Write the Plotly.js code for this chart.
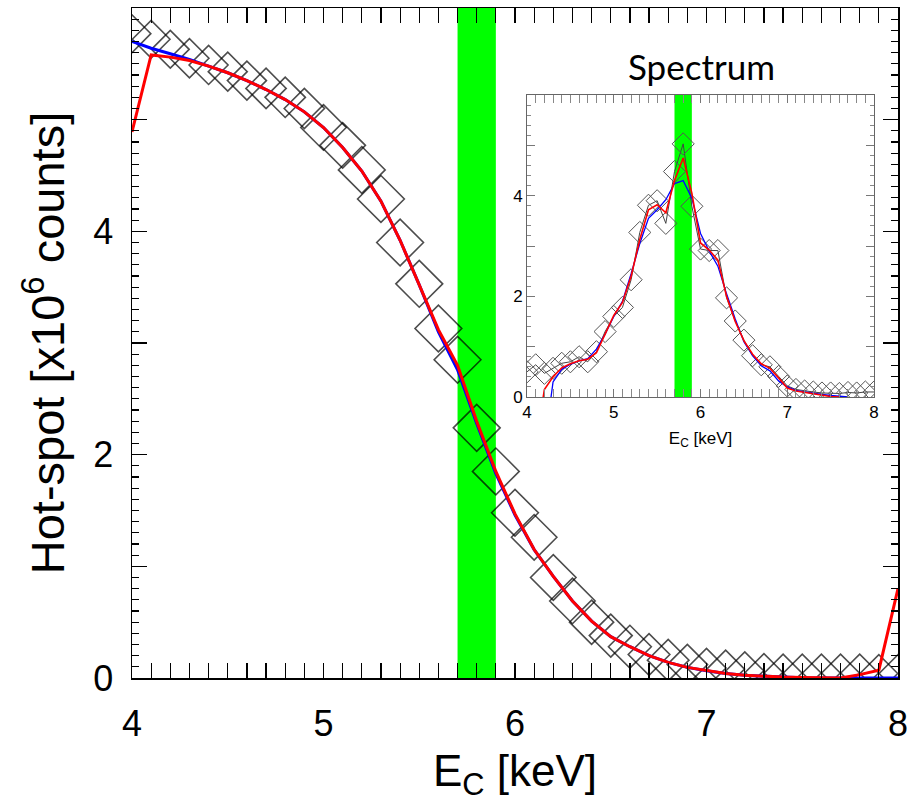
<!DOCTYPE html>
<html>
<head>
<meta charset="utf-8">
<script src="https://cdn.plot.ly/plotly-3.0.1.min.js"></script>
<style>html,body{margin:0;padding:0;background:#fff;}</style>
</head>
<body>
<div id="chart" style="width:907px;height:802px;"></div>
<script>
// ---------- data ----------
const energy = [4.0,4.1,4.2,4.3,4.4,4.5,4.6,4.7,4.8,4.9,5.0,5.1,5.2,5.3,5.4,5.5,5.6,5.7,5.8,5.9,
                6.0,6.1,6.2,6.3,6.4,6.5,6.6,6.7,6.8,6.9,7.0,7.1,7.2,7.3,7.4,7.5,7.6,7.7,7.8,7.9,8.0];

// main panel: hot-spot counts (x10^6)
const hotspotData = [5.77,5.72,5.63,5.55,5.49,5.43,5.35,5.28,5.20,5.10,4.93,4.77,4.55,4.29,3.90,3.53,3.13,2.85,2.24,1.85,
                     1.48,1.26,0.90,0.69,0.50,0.38,0.28,0.21,0.16,0.12,0.09,0.08,0.065,0.05,0.045,0.045,0.045,0.045,0.045,0.04,0.04];
const hotspotBlue = [5.70,5.64,5.59,5.54,5.48,5.42,5.35,5.27,5.18,5.07,4.93,4.75,4.54,4.27,3.92,3.52,3.10,2.76,2.28,1.83,
                     1.46,1.15,0.91,0.69,0.51,0.37,0.28,0.20,0.14,0.095,0.065,0.04,0.025,0.015,0.008,0.003,0.0,0.0,0.0,0.0,0.0];
const hotspotRed  = [4.89,5.58,5.56,5.53,5.48,5.42,5.35,5.27,5.18,5.07,4.93,4.75,4.54,4.27,3.92,3.52,3.12,2.80,2.30,1.85,
                     1.47,1.15,0.91,0.69,0.51,0.37,0.28,0.20,0.14,0.095,0.065,0.04,0.025,0.015,0.008,0.004,0.002,0.0,0.03,0.07,0.80];

// inset: spectrum
const spectrumData = [0.50,0.64,0.47,0.57,0.67,0.70,0.80,0.70,0.90,1.30,1.60,1.78,2.33,3.27,3.81,3.90,3.45,4.48,5.03,3.79,
                      2.94,2.91,2.91,1.97,1.51,1.13,0.82,0.64,0.60,0.41,0.22,0.15,0.12,0.10,0.08,0.08,0.07,0.09,0.08,0.10,0.10];
const spectrumBlue = [null,null,-1.0,0.30,0.55,0.65,0.72,0.76,0.95,1.25,1.60,1.90,2.45,3.05,3.55,3.72,3.92,4.24,4.30,3.95,
                      3.25,2.90,2.60,2.05,1.55,1.10,0.82,0.62,0.52,0.32,0.20,0.13,0.10,0.07,0.05,0.03,0.01,0.0,null,null,null];
const spectrumRed  = [null,-1.0,0.15,0.40,0.58,0.66,0.72,0.75,0.88,1.25,1.62,1.88,2.40,3.13,3.72,3.82,3.66,4.30,4.75,4.05,
                      3.06,2.92,2.72,2.00,1.50,1.12,0.85,0.66,0.57,0.38,0.18,0.12,0.09,0.06,0.04,0.01,0.0,null,null,null,null];

// highlighted energy window (keV)
const bandRange = [5.7, 5.9];

// tick labels
const xTickVals = [4,5,6,7,8];
const xTickText = ['4','5','6','7','8'];
const yTickVals = [0,2,4];
const yTickText = ['0','2','4'];
const yOddTickVals = [1,3,5];   // unlabelled major ticks

// ---------- styles (not data) ----------
const diamondSizeMain = [29,29,29,30,30,30,30,31,31,31,35,35,36,36,36,36,36,36,36,36,
                         36,35,35,35,34,33,33,32,32,31,30,29,29,29,29,29,29,29,29,29,29];

const FONT = 'Liberation Sans, Arial, sans-serif';

const traces = [
  {x: energy, y: hotspotData, xaxis:'x', yaxis:'y', mode:'markers', type:'scatter',
   marker:{symbol:'diamond-open', size: diamondSizeMain, color:'#000', line:{width:1.6, color:'#000'}}},
  {x: energy, y: hotspotBlue, xaxis:'x', yaxis:'y', mode:'lines', type:'scatter',
   line:{color:'#0000ff', width:3}},
  {x: energy, y: hotspotRed, xaxis:'x', yaxis:'y', mode:'lines', type:'scatter',
   line:{color:'#ff0000', width:3}},

  {x: energy, y: spectrumData, xaxis:'x2', yaxis:'y2', mode:'lines+markers', type:'scatter',
   line:{color:'#444', width:1},
   marker:{symbol:'diamond-open', size:17, color:'#555', line:{width:1, color:'#555'}}},
  {x: energy, y: spectrumBlue, xaxis:'x2', yaxis:'y2', mode:'lines', type:'scatter',
   line:{color:'#0000ff', width:1.3}},
  {x: energy, y: spectrumRed, xaxis:'x2', yaxis:'y2', mode:'lines', type:'scatter',
   line:{color:'#ff0000', width:1.6}},

  // empty carriers for the overlay tick axes
  {x: [], y: [], xaxis:'x', yaxis:'y3', type:'scatter', mode:'lines', hoverinfo:'skip'},
  {x: [], y: [], xaxis:'x2', yaxis:'y4', type:'scatter', mode:'lines', hoverinfo:'skip'}
];

const mainAxisCommon = {
  showgrid:false, zeroline:false, showline:true, linecolor:'#000', linewidth:1.5,
  ticks:'inside', ticklen:15, tickwidth:1.5, tickcolor:'#000', mirror:'allticks',
  ticklabeloverflow:'allow',
  tickfont:{family:FONT, size:36, color:'#000'}
};
const insetAxisCommon = {
  showgrid:false, zeroline:false, showline:true, linecolor:'#666', linewidth:1,
  ticks:'inside', ticklen:8, tickwidth:1, tickcolor:'#777', mirror:'allticks',
  tickfont:{family:FONT, size:17, color:'#000'}
};

const layout = {
  width:907, height:802,
  margin:{l:132, r:9, t:8, b:124},
  paper_bgcolor:'#fff', plot_bgcolor:'rgba(0,0,0,0)',
  showlegend:false,
  xaxis: Object.assign({}, mainAxisCommon, {
    domain:[0,1], range:[4,8], anchor:'y',
    tickmode:'array', tickvals:xTickVals, ticktext:xTickText,
    minor:{dtick:0.1, tick0:4, ticklen:7, tickwidth:1.2, tickcolor:'#000', ticks:'inside'},
    ticklabelstandoff:13,
    title:{text:'E<sub>C</sub> [keV]', font:{family:FONT, size:44, color:'#000'}, standoff:22}
  }),
  yaxis: Object.assign({}, mainAxisCommon, {
    domain:[0,1], range:[0,6], anchor:'x',
    tickmode:'array', tickvals:yTickVals, ticktext:yTickText,
    minor:{dtick:0.1, tick0:0, ticklen:7, tickwidth:1.2, tickcolor:'#000', ticks:'inside'},
    ticklabelstandoff:10,
    title:{text:'Hot-spot [x10<sup>6</sup> counts]', font:{family:FONT, size:47, color:'#000'}, standoff:14}
  }),
  yaxis3: {
    overlaying:'y', anchor:'x', side:'left', range:[0,6],
    showgrid:false, zeroline:false, showline:false, showticklabels:false,
    tickmode:'array', tickvals:yOddTickVals,
    ticks:'inside', ticklen:15, tickwidth:1.5, tickcolor:'#000', mirror:'allticks'
  },
  xaxis2: Object.assign({}, insetAxisCommon, {
    domain:[0.5157, 0.9687], range:[4,8], anchor:'y2',
    tickmode:'array', tickvals:xTickVals, ticktext:xTickText,
    minor:{dtick:0.1, tick0:4, ticklen:4, tickwidth:1, tickcolor:'#888', ticks:'inside'},
    title:{text:'E<sub>C</sub> [keV]', font:{family:FONT, size:17, color:'#000'}, standoff:10}
  }),
  yaxis2: Object.assign({}, insetAxisCommon, {
    domain:[0.4194, 0.8701], range:[0,6], anchor:'x2',
    tickmode:'array', tickvals:yTickVals, ticktext:yTickText,
    minor:{dtick:0.2, tick0:0, ticklen:4, tickwidth:1, tickcolor:'#888', ticks:'inside'}
  }),
  yaxis4: {
    overlaying:'y2', anchor:'x2', side:'left', range:[0,6],
    showgrid:false, zeroline:false, showline:false, showticklabels:false,
    tickmode:'array', tickvals:yOddTickVals,
    ticks:'inside', ticklen:8, tickwidth:1, tickcolor:'#777', mirror:'allticks'
  },
  shapes:[
    {type:'rect', xref:'x', yref:'y domain', x0:bandRange[0], x1:bandRange[1], y0:0, y1:1,
     fillcolor:'#00ff00', line:{width:0}, layer:'below'},
    {type:'rect', xref:'x2', yref:'y2 domain', x0:bandRange[0], x1:bandRange[1], y0:0, y1:1,
     fillcolor:'#00ff00', line:{width:0}, layer:'below'}
  ],
  annotations:[
    {text:'Spectrum', xref:'paper', yref:'paper', x:0.744, y:0.913, xanchor:'center', yanchor:'middle',
     showarrow:false, font:{family:'Lato, Noto Sans, sans-serif', size:35, color:'#000'}}
  ]
};

Plotly.newPlot('chart', traces, layout, {displayModeBar:false, staticPlot:true});
</script>
</body>
</html>
